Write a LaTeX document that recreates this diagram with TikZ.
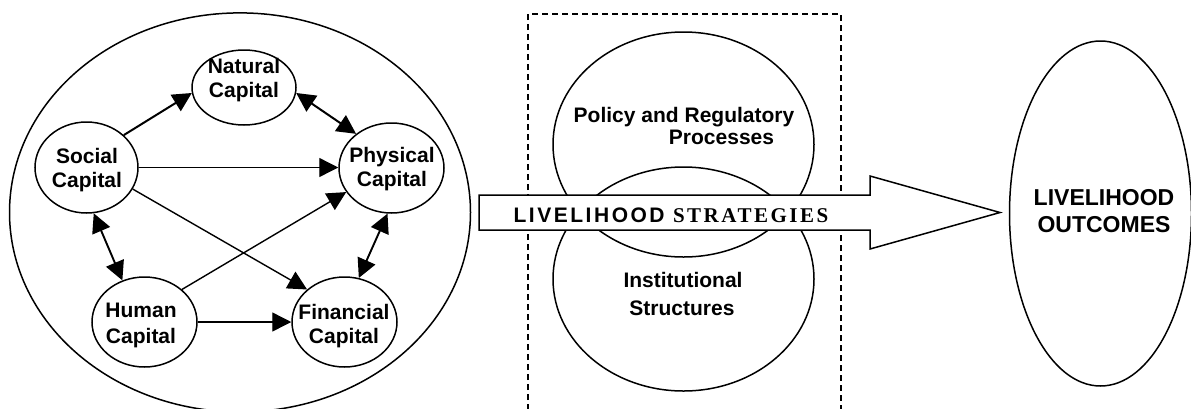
\documentclass[tikz,border=0pt]{standalone}
\usepackage{fontspec}
\setmainfont{Liberation Sans}
\newfontfamily\timesb{Liberation Serif}
\usetikzlibrary{shapes.geometric,arrows.meta}
\begin{document}
\begin{tikzpicture}[x=1pt,y=-1pt,
  oval/.style={draw,ellipse,line width=1.5pt,inner sep=0pt},
  lbl/.style={font=\fontsize{21}{24}\selectfont\bfseries,inner sep=0pt,anchor=base},
  biglbl/.style={font=\fontsize{23}{27}\selectfont\bfseries,inner sep=0pt,anchor=base},
  tip/.tip={Triangle[length=19pt,width=19pt]},
  con/.style={line width=1.4pt,-tip},
  bicon/.style={line width=1.4pt,tip-tip},
]
\clip (0,0) rectangle (1191,408);
\fill[white] (0,0) rectangle (1191,408);

% assets
\node[oval,minimum width=461pt,minimum height=399pt] (assets) at (240,212.4) {};
\node[oval,minimum width=104pt,minimum height=75pt] (nat) at (244,87.5) {};
\node[oval,minimum width=103pt,minimum height=91pt] (soc) at (86.5,167.5) {};
\node[oval,minimum width=105pt,minimum height=90pt] (phy) at (391.5,168) {};
\node[oval,minimum width=105pt,minimum height=90pt] (hum) at (144.5,322) {};
\node[oval,minimum width=105pt,minimum height=90pt] (fin) at (344.5,322) {};

\node[lbl] (natA) at (244,73) {Natural};
\node[lbl] (natB) at (244,97) {Capital};
\node[lbl] (socA) at (87,163) {Social};
\node[lbl] (socB) at (87,187) {Capital};
\node[lbl] (phyA) at (392,162) {Physical};
\node[lbl] (phyB) at (392,186) {Capital};
\node[lbl] (humA) at (141,317) {Human};
\node[lbl] (humB) at (141,343) {Capital};
\node[lbl] (finA) at (344,319) {Financial};
\node[lbl] (finB) at (344,343) {Capital};

\draw[con,line width=2pt] (soc.41.9) -- (nat.186.4);
\draw[bicon,line width=2pt] (nat.-6.4) -- (phy.136);
\draw[con] (soc.east) -- (soc.east -| phy.west);
\draw[con] (soc.-25.8) -- (fin.139.3);
\draw[con] (hum.41.4) -- (phy.208.3);
\draw[con] (hum.east) -- (fin.west);
\draw[bicon,line width=1.9pt] (soc.-81.9) -- (hum.118.3);
\draw[bicon,line width=1.9pt] (phy.-95.8) -- (fin.72.6);

% transforming structures
\draw[line width=1.4pt,dash pattern=on 6pt off 4pt] (528,420) -- (528,14) -- (841,14) -- (841,420);
\node[oval,minimum width=261pt,minimum height=225pt] (pol) at (683.5,144.5) {};
\node[oval,minimum width=261pt,minimum height=224pt] (inst) at (683.5,279) {};
\node[lbl] (polA) at (684,122) {Policy and Regulatory};
\node[lbl] (polB) at (721.5,144.5) {Processes};
\node[lbl] (instA) at (683,287) {Institutional};
\node[lbl] (instB) at (682,315) {Structures};

% strategies arrow
\draw[line width=1.5pt,fill=white] (479,195) -- (870,195) -- (870,176) -- (1000,212.5)
  -- (870,249) -- (870,230) -- (479,230) -- cycle;
\node[lbl] (strat) at (671,222.5) {\addfontfeature{LetterSpace=12}LIVELIHOOD {\timesb\bfseries\addfontfeature{LetterSpace=12}STRATEGIES}};

% outcomes
\node[oval,minimum width=182pt,minimum height=345pt] (out) at (1100.5,213.5) {};
\node[biglbl] (outA) at (1104,205) {LIVELIHOOD};
\node[biglbl] (outB) at (1104,232.5) {OUTCOMES};
\end{tikzpicture}
\end{document}
